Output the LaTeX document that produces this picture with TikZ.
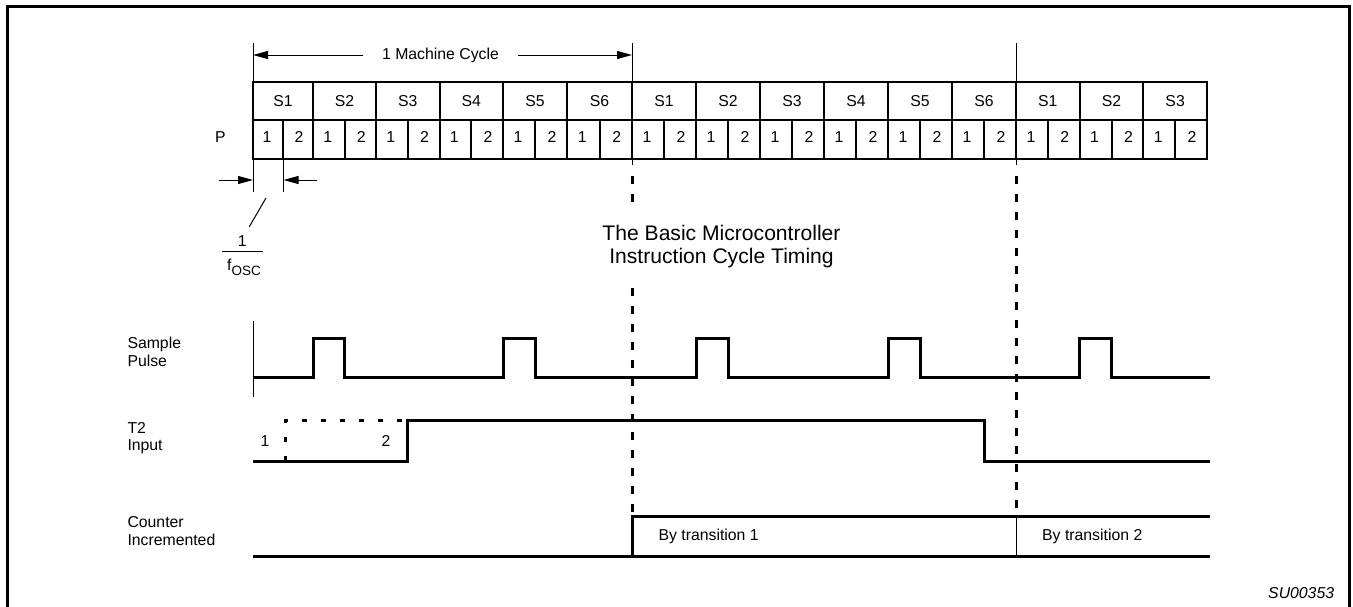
\documentclass[tikz,border=0pt]{standalone}
\usepackage{fontspec}
\setmainfont{Liberation Sans}
\usetikzlibrary{arrows.meta}
\begin{document}
\begin{tikzpicture}[x=1pt,y=-1pt,
  tbl/.style={line width=2pt},
  wave/.style={line width=3pt,line join=miter},
  thinln/.style={line width=1pt},
  vdash/.style={line width=3pt,dash pattern=on 7.5pt off 10.5pt},
  tdash/.style={line width=3pt,dash pattern=on 5pt off 14pt},
  lbl/.style={font=\fontsize{15.8}{17.7}\selectfont,inner sep=0pt},
  arr/.style={-{Triangle[length=15pt,width=8pt]},line width=1pt}]
\useasboundingbox (0,0) rectangle (1353,606);
% frame
\draw[line width=2.5pt] (7.3,620) -- (7.3,6.3) -- (1349.7,6.3) -- (1349.7,620);
% table
\draw[tbl] (253,82) rectangle (1207,159);
\draw[tbl] (253,120) -- (1207,120);
\foreach \a/\b/\s [count=\i] in {253/313/S1,313/376/S2,376/439.5/S3,439.5/503/S4,503/567/S5,567/632/S6,
  632/696/S1,696/760/S2,760/824/S3,824/888/S4,888/952/S5,952/1016/S6,
  1016/1079.7/S1,1079.7/1143.3/S2,1143.3/1207/S3}{
  \pgfmathsetmacro\m{(\a+\b)/2}
  \draw[tbl] (\b,82) -- (\b,159);
  \draw[tbl] (\m,120) -- (\m,159);
  \node[lbl,anchor=base] (s\i) at (\m,106) {\s};
  \node[lbl,anchor=base] (pa\i) at ({(\a+\m)/2-1},142) {1};
  \node[lbl,anchor=base] (pb\i) at ({(\m+\b)/2+1},142) {2};
}
\node[lbl,anchor=base west] (plbl) at (215,142) {P};
% reference verticals
\coordinate (v0t) at (253,43);
\coordinate (v0b) at (253,192);
\coordinate (v1t) at (632,43);
\coordinate (v1b) at (632,165);
\coordinate (v2t) at (1016,43);
\coordinate (v2b) at (1016,165);
\draw[thinln] (v0t) -- (v0b);
\draw[thinln] (v1t) -- (v1b);
\draw[thinln] (v2t) -- (v2b);
% machine cycle
\node[lbl,anchor=base] (mc) at (440.5,59.3) {1 Machine Cycle};
\coordinate (mcL) at (253,55);
\coordinate (mcR) at (632,55);
\coordinate (mcLs) at (363.3,55);
\coordinate (mcRs) at (518.3,55);
\draw[arr] (mcLs) -- (mcL);
\draw[arr] (mcRs) -- (mcR);
% 1/fosc
\coordinate (t1t) at (283.5,159);
\coordinate (t1b) at (283.5,192);
\draw[thinln] (t1t) -- (t1b);
\coordinate (fa1) at (219,180);
\coordinate (fa2) at (253,180);
\coordinate (fb1) at (317,180);
\coordinate (fb2) at (283.5,180);
\draw[arr] (fa1) -- (fa2);
\draw[arr] (fb1) -- (fb2);
\coordinate (sl1) at (266,198);
\coordinate (sl2) at (249.3,226.7);
\draw[thinln] (sl1) -- (sl2);
\node[lbl,anchor=base] (one) at (242.3,246) {1};
\coordinate (bar1) at (221.7,251);
\coordinate (bar2) at (263.3,251);
\draw[thinln] (bar1) -- (bar2);
\node[lbl,anchor=base] (fosc) at (244,270.5) {f\raisebox{-4.5pt}{\fontsize{13.5}{15}\selectfont OSC}};
% title (base = last line)
\node[font=\fontsize{21.1}{22.6}\selectfont,inner sep=0pt,align=center,anchor=base] (title) at (721.5,263.3) {The Basic Microcontroller\\Instruction Cycle Timing};
% signal labels (base = last line)
\node[lbl,anchor=base west,align=left] (sp) at (127.3,366) {Sample\\Pulse};
\node[lbl,anchor=base west,align=left] (t2) at (127.3,450.7) {T2\\Input};
\node[lbl,anchor=base west,align=left] (ci) at (127.3,545) {Counter\\Incremented};
% dashed verticals
\coordinate (d1t) at (632,176);
\coordinate (d1m) at (632,209);
\coordinate (d1n) at (632,288);
\coordinate (d1b) at (632,516);
\coordinate (d2t) at (1016,176);
\coordinate (d2b) at (1016,516);
\draw[vdash] (d1t) -- (d1m);
\draw[vdash] (d1n) -- (d1b);
\draw[vdash] (d2t) -- (d2b);
% sample pulse
\draw[thinln] (253,321) -- (253,397);
\draw[wave] (253,377) -- (313,377) -- (313,338.3) -- (344.5,338.3) -- (344.5,377)
  -- (503,377) -- (503,338.3) -- (535,338.3) -- (535,377)
  -- (696,377) -- (696,338.3) -- (728,338.3) -- (728,377)
  -- (888,377) -- (888,338.3) -- (920,338.3) -- (920,377)
  -- (1079.7,377) -- (1079.7,338.3) -- (1111.5,338.3) -- (1111.5,377) -- (1210,377);
% T2 input
\draw[wave] (253,461) -- (407.7,461) -- (407.7,420) -- (984,420) -- (984,461) -- (1210,461);
\draw[tdash] (285.5,461) -- (285.5,420) -- (404,420);
\node[lbl,anchor=base] (tr1) at (265,446) {1};
\node[lbl,anchor=base] (tr2) at (386,446) {2};
% counter
\draw[wave] (253,556) -- (1210,556);
\draw[wave] (632,556) -- (632,516) -- (1210,516);
\draw[thinln] (d2b) -- (1016,556);
\node[lbl,anchor=base west] (bt1) at (658.4,540.7) {By transition 1};
\node[lbl,anchor=base west] (bt2) at (1042,540.7) {By transition 2};
\node[lbl,anchor=base west,font=\fontsize{15.8}{17.7}\selectfont\itshape] (code) at (1268,598) {SU00353};
\end{tikzpicture}
\end{document}
